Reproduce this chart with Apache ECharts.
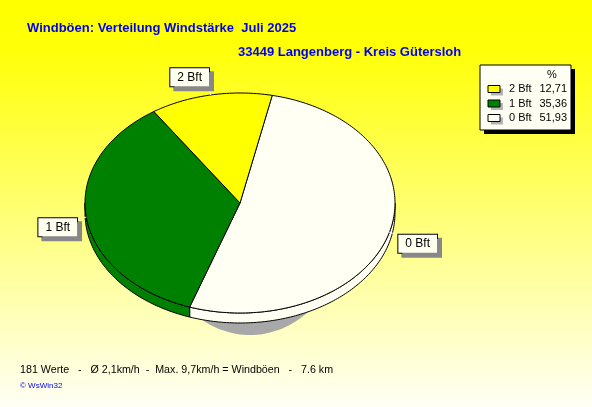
<!DOCTYPE html>
<html>
<head>
<meta charset="utf-8">
<script src="https://cdn.jsdelivr.net/npm/echarts@6/dist/echarts.min.js"></script>
<style>
html,body{margin:0;padding:0;}
#chart{width:592px;height:407px;}
</style>
</head>
<body>
<div id="chart"></div>
<script>
// ---- data ----
const categories = ['0 Bft', '1 Bft', '2 Bft'];
const percents = [51.93, 35.36, 12.71];
const sliceColors = ['#FFFFF4', '#008000', '#FFFF00'];
const titleText = 'Windböen: Verteilung Windstärke  Juli 2025';
const subtitleText = '33449 Langenberg - Kreis Gütersloh';
const footerText = '181 Werte   -   Ø 2,1km/h  -  Max. 9,7km/h = Windböen   -   7.6 km';
const creditText = '© WsWin32';
const legendHeader = '%';

// ---- layout / style constants ----
const START = 78;      // start angle of first slice (deg, ccw from +x)
const DEPTH = 10;      // pie thickness in px
const FONT = '"Liberation Sans", Arial, sans-serif';

function sliceRange(i) {
  let cum = 0;
  for (let k = 0; k < i; k++) cum += percents[k];
  const hi = START - cum * 3.6;
  const lo = hi - percents[i] * 3.6;
  return [lo, hi];
}
const rad = d => d * Math.PI / 180;

function renderSlice(params, api) {
  const i = params.dataIndex;
  const [lo, hi] = sliceRange(i);
  const pt = (deg, r) => api.coord([(r || 1) * Math.cos(rad(deg)), (r || 1) * Math.sin(rad(deg))]);
  const children = [];

  if (i === 0) {
    // drop shadow under pie
    const sp = [];
    for (let a = 0; a <= 360; a += 2) {
      sp.push(api.coord([0.065 + 0.62 * Math.cos(rad(a)), -0.164 + 1.036 * Math.sin(rad(a))]));
    }
    children.push({type: 'polygon', z2: 0, shape: {points: sp}, style: {fill: '#A8A8A8'}});
  }

  // side walls (visible lower half)
  for (let k = -2; k <= 1; k++) {
    const s = Math.max(lo, -180 + 360 * k);
    const e = Math.min(hi, 360 * k);
    if (e > s) {
      const top = [], bot = [];
      const n = Math.max(2, Math.ceil((e - s)));
      for (let j = 0; j <= n; j++) {
        const a = s + (e - s) * j / n;
        const p = pt(a);
        top.push(p);
        bot.push([p[0], p[1] + DEPTH]);
      }
      children.push({type: 'polygon', z2: 1, shape: {points: top.concat(bot.reverse())},
        style: {fill: sliceColors[i], stroke: '#000', lineWidth: 1}});
    }
  }

  // top face
  const pts = [api.coord([0, 0])];
  const n = Math.max(2, Math.ceil(hi - lo));
  for (let j = 0; j <= n; j++) pts.push(pt(hi - (hi - lo) * j / n));
  children.push({type: 'polygon', z2: 2, shape: {points: pts},
    style: {fill: sliceColors[i], stroke: '#000', lineWidth: 1}});

  // label with leader line
  const mid = (lo + hi) / 2;
  const c = Math.cos(rad(mid)), s = Math.sin(rad(mid));
  const edge = pt(mid);
  const anchor = api.coord([1.06 * c, 1.08 * s]);
  children.push({type: 'line', z2: 3, shape: {x1: edge[0], y1: edge[1], x2: anchor[0], y2: anchor[1]},
    style: {stroke: '#FFFFFF', lineWidth: 1}});
  children.push({type: 'text', z2: 4, x: anchor[0], y: anchor[1],
    style: {text: categories[i], font: '12px ' + FONT, fill: '#000',
      align: c < 0 ? 'right' : 'left', verticalAlign: s > 0 ? 'bottom' : 'top',
      backgroundColor: '#FFFFF0', borderColor: '#000', borderWidth: 1, padding: [3, 7, 3, 7],
      shadowColor: '#888888', shadowOffsetX: 4, shadowOffsetY: 4, shadowBlur: 0}});

  return {type: 'group', children: children};
}

// ---- legend graphic built from arrays ----
const legendEls = [];
const LX = 480, LY = 65, LW = 91, LH = 65;
legendEls.push({type: 'rect', shape: {x: LX + 4, y: LY + 4, width: LW, height: LH}, style: {fill: '#000'}});
legendEls.push({type: 'rect', shape: {x: LX, y: LY, width: LW, height: LH}, style: {fill: '#FFFFF4', stroke: '#000', lineWidth: 1}});
legendEls.push({type: 'text', x: 552, y: 75, style: {text: legendHeader, font: '11px ' + FONT, fill: '#000', align: 'center', verticalAlign: 'middle'}});
for (let j = 0; j < categories.length; j++) {
  const idx = categories.length - 1 - j;
  const y = 89 + j * 14.5;
  legendEls.push({type: 'rect', shape: {x: 491, y: y - 0.5, width: 12, height: 7}, style: {fill: '#B4B4B4'}});
  legendEls.push({type: 'rect', shape: {x: 488, y: y - 3.5, width: 12, height: 7}, style: {fill: sliceColors[idx], stroke: '#000', lineWidth: 1}});
  legendEls.push({type: 'text', x: 509, y: y, style: {text: categories[idx], font: '11px ' + FONT, fill: '#000', align: 'left', verticalAlign: 'middle'}});
  legendEls.push({type: 'text', x: 567, y: y, style: {text: percents[idx].toFixed(2).replace('.', ','), font: '11px ' + FONT, fill: '#000', align: 'right', verticalAlign: 'middle'}});
}

const chart = echarts.init(document.getElementById('chart'), null, {renderer: 'canvas'});
chart.setOption({
  animation: false,
  backgroundColor: {type: 'linear', x: 0, y: 0, x2: 0, y2: 1,
    colorStops: [{offset: 0, color: '#FFFF00'}, {offset: 0.12, color: '#FFFF08'}, {offset: 1, color: '#FFFFF6'}]},
  title: [
    {text: titleText, left: 22, top: 17, textStyle: {fontFamily: FONT, fontSize: 13, fontWeight: 'bold', color: '#0000F0'}},
    {text: subtitleText, left: 233, top: 41, textStyle: {fontFamily: FONT, fontSize: 13, fontWeight: 'bold', color: '#0000F0'}}
  ],
  grid: {left: 85, width: 310, top: 93, height: 220, containLabel: false},
  xAxis: {type: 'value', min: -1, max: 1, show: false},
  yAxis: {type: 'value', min: -1, max: 1, show: false},
  series: [{
    type: 'custom',
    coordinateSystem: 'cartesian2d',
    renderItem: renderSlice,
    data: categories.map((c, i) => ({name: c, value: [0, 0, percents[i]]})),
    clip: false,
    silent: true
  }],
  graphic: legendEls.concat([
    {type: 'text', x: 20, y: 370, style: {text: footerText, font: '10.7px ' + FONT, fill: '#000', verticalAlign: 'middle'}},
    {type: 'text', x: 20, y: 386, style: {text: creditText, font: '8px ' + FONT, fill: '#0000F0', verticalAlign: 'middle'}}
  ])
});
</script>
</body>
</html>
